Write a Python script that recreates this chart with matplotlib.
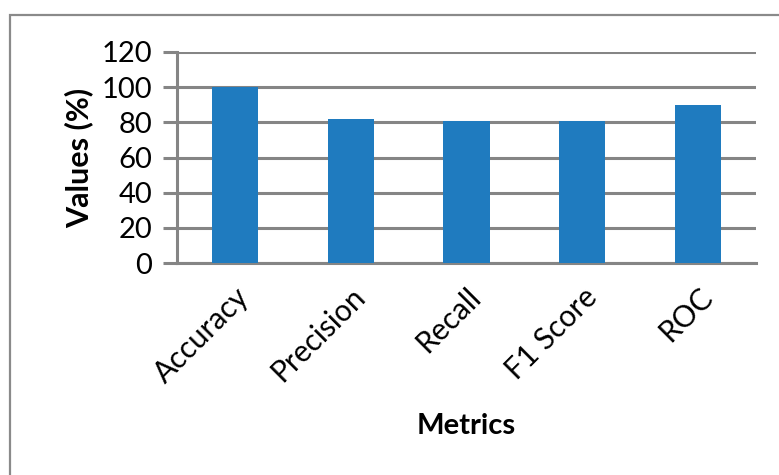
import matplotlib
matplotlib.use("Agg")
import matplotlib.pyplot as plt
from matplotlib.patches import Rectangle

categories = ["Accuracy", "Precision", "Recall", "F1 Score", "ROC"]
values = [100, 82, 80.5, 81, 89.7]
yticks = [0, 20, 40, 60, 80, 100, 120]

plt.rcParams['font.family'] = ['Lato', 'DejaVu Sans']

W, H = 779, 475
fig = plt.figure(figsize=(W / 100, H / 100), dpi=100)
fig.patch.set_facecolor('white')

# outer chart border
fig.patches.append(Rectangle((10 / W, -0.05), 1.2, 1 - 15 / H + 0.05,
                             transform=fig.transFigure, fill=False,
                             edgecolor='#8a8a8a', linewidth=1.6))

ax = fig.add_axes([177 / W, 1 - 263 / H, (756 - 177) / W, (263 - 52) / H])
grid_c = '#858585'
x = list(range(len(categories)))
ax.bar(x, values, width=0.4, color='#1f7bbf', zorder=3)
ax.set_xlim(-0.5, len(categories) - 0.5)
ax.set_ylim(0, 120)
ax.set_yticks(yticks)
ax.set_yticklabels([str(v) for v in yticks], fontsize=21)
ax.set_xticks(x)
ax.set_xticklabels(categories, rotation=45, ha='right', rotation_mode='anchor', fontsize=21.5)
ax.yaxis.grid(True, color=grid_c, linewidth=2.2, zorder=0)
for s in ['top', 'right']:
    ax.spines[s].set_visible(False)
ax.spines['left'].set_color(grid_c)
ax.spines['left'].set_linewidth(2.2)
ax.spines['bottom'].set_color(grid_c)
ax.spines['bottom'].set_linewidth(2.2)
ax.tick_params(axis='y', length=10, width=2.2, color=grid_c, pad=8)
ax.tick_params(axis='x', length=0, pad=14)
ax.set_ylabel("Values (%)", fontsize=22, fontweight='bold', labelpad=6)
ax.set_xlabel("Metrics", fontsize=21, fontweight='bold', labelpad=18)

fig.savefig("out.png", dpi=100, facecolor='white')
